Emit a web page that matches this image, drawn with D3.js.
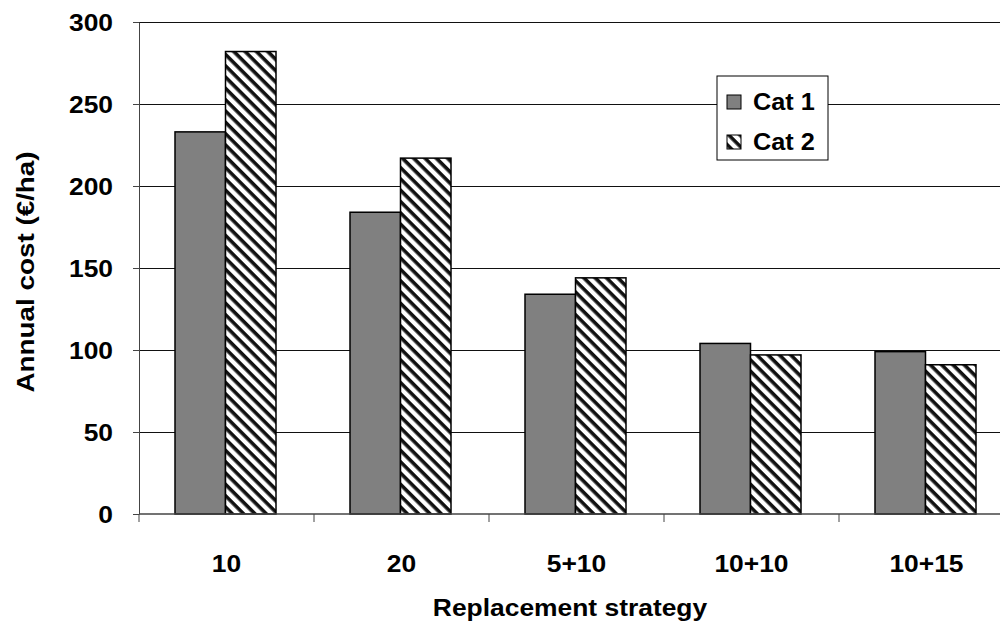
<!DOCTYPE html>
<html>
<head>
<meta charset="utf-8">
<script src="https://cdn.jsdelivr.net/npm/d3@7"></script>
<style>
  html, body { margin: 0; padding: 0; background: #fff; }
  svg { display: block; font-family: "Liberation Sans", Arial, sans-serif; }
</style>
</head>
<body>
<svg id="chart" width="1000" height="626"></svg>
<script>
// Annual cost per replacement strategy
const categories = ["10", "20", "5+10", "10+10", "10+15"];
const seriesNames = ["Cat 1", "Cat 2"];
const cat1 = [233, 184, 134, 104, 99];
const cat2 = [282, 217, 144, 97, 91];
const yTicks = [0, 50, 100, 150, 200, 250, 300];

const svg = d3.select("#chart");
const margin = { left: 139, top: 22, bottom: 112 };
const plotW = 875;                 // plot runs past the right edge of the canvas
const plotH = 626 - margin.top - margin.bottom;
const stretch = 1.1;               // labels are set slightly wide

// Hatch pattern for the second series
const defs = svg.append("defs");
const pat = defs.append("pattern")
  .attr("id", "hatch")
  .attr("patternUnits", "userSpaceOnUse")
  .attr("width", 8).attr("height", 8)
  .attr("patternTransform", "rotate(45)");
pat.append("rect").attr("width", 8).attr("height", 8).attr("fill", "#fff");
pat.append("rect").attr("x", 0).attr("y", 0).attr("width", 8).attr("height", 3.6).attr("fill", "#111");

const x = d3.scaleBand().domain(categories).range([0, plotW]).paddingInner(0).paddingOuter(0);
const xSub = d3.scaleBand().domain(seriesNames).range([36, 36 + 101]);
const y = d3.scaleLinear().domain([0, 300]).range([plotH, 0]);

const g = svg.append("g").attr("transform", `translate(${margin.left},${margin.top})`);

// Horizontal gridlines
g.append("g").selectAll("line")
  .data(yTicks.filter(d => d > 0))
  .join("line")
  .attr("x1", 0).attr("x2", plotW)
  .attr("y1", d => y(d)).attr("y2", d => y(d))
  .attr("stroke", "#111").attr("stroke-width", 1)
  .attr("shape-rendering", "crispEdges");

// Bars
const rows = categories.map((c, i) => ({ c, v: [cat1[i], cat2[i]] }));
const groups = g.append("g").selectAll("g")
  .data(rows).join("g")
  .attr("transform", d => `translate(${x(d.c)},0)`);
groups.selectAll("rect")
  .data(d => d.v.map((v, j) => ({ name: seriesNames[j], v })))
  .join("rect")
  .attr("x", d => xSub(d.name))
  .attr("width", xSub.bandwidth())
  .attr("y", d => y(d.v))
  .attr("height", d => y(0) - y(d.v))
  .attr("fill", d => d.name === "Cat 1" ? "#808080" : "url(#hatch)")
  .attr("stroke", "#000").attr("stroke-width", 1.5);

// Y axis
const yAxis = g.append("g")
  .call(d3.axisLeft(y).tickValues(yTicks).tickSize(6).tickPadding(26).tickSizeOuter(0));
yAxis.select(".domain").attr("stroke", "#444");
yAxis.selectAll(".tick line").attr("stroke", "#444");
yAxis.selectAll("text")
  .attr("x", 0)
  .attr("dy", "0.36em")
  .attr("transform", `translate(-26,0) scale(${stretch},1)`)
  .attr("font-size", 24).attr("font-weight", "bold").attr("fill", "#000");

// X axis: ticks at category boundaries, labels centred
const xAxis = g.append("g").attr("transform", `translate(0,${plotH})`);
xAxis.append("line").attr("x1", 0).attr("x2", plotW).attr("stroke", "#444").attr("stroke-width", 1.5);
xAxis.selectAll("line.b")
  .data(categories).join("line").attr("class", "b")
  .attr("x1", d => x(d)).attr("x2", d => x(d))
  .attr("y1", 0).attr("y2", 8)
  .attr("stroke", "#444");
xAxis.selectAll("text")
  .data(categories).join("text")
  .attr("transform", d => `translate(${x(d) + x.bandwidth() / 2},58) scale(${stretch},1)`)
  .attr("text-anchor", "middle")
  .attr("font-size", 24).attr("font-weight", "bold")
  .text(d => d);

// Axis titles
svg.append("text")
  .attr("transform", `translate(570,616) scale(${stretch},1)`)
  .attr("text-anchor", "middle")
  .attr("font-size", 24).attr("font-weight", "bold")
  .text("Replacement strategy");
svg.append("text")
  .attr("transform", "translate(34,272) rotate(-90) scale(1.16,1)")
  .attr("text-anchor", "middle")
  .attr("font-size", 24).attr("font-weight", "bold")
  .text("Annual cost (€/ha)");

// Legend
const legend = svg.append("g").attr("transform", "translate(717,76)");
legend.append("rect").attr("width", 111).attr("height", 84)
  .attr("fill", "#fff").attr("stroke", "#000").attr("stroke-width", 1);
const li = legend.selectAll("g.item").data(seriesNames).join("g").attr("class", "item")
  .attr("transform", (d, i) => `translate(10,${26 + i * 40})`);
li.append("rect").attr("x", 0).attr("y", -7).attr("width", 14).attr("height", 14)
  .attr("fill", d => d === "Cat 1" ? "#808080" : "url(#hatch)")
  .attr("stroke", "#000").attr("stroke-width", 1);
li.append("text")
  .attr("transform", `translate(26,8) scale(${stretch},1)`)
  .attr("font-size", 23).attr("font-weight", "bold")
  .text(d => d);
</script>
</body>
</html>
